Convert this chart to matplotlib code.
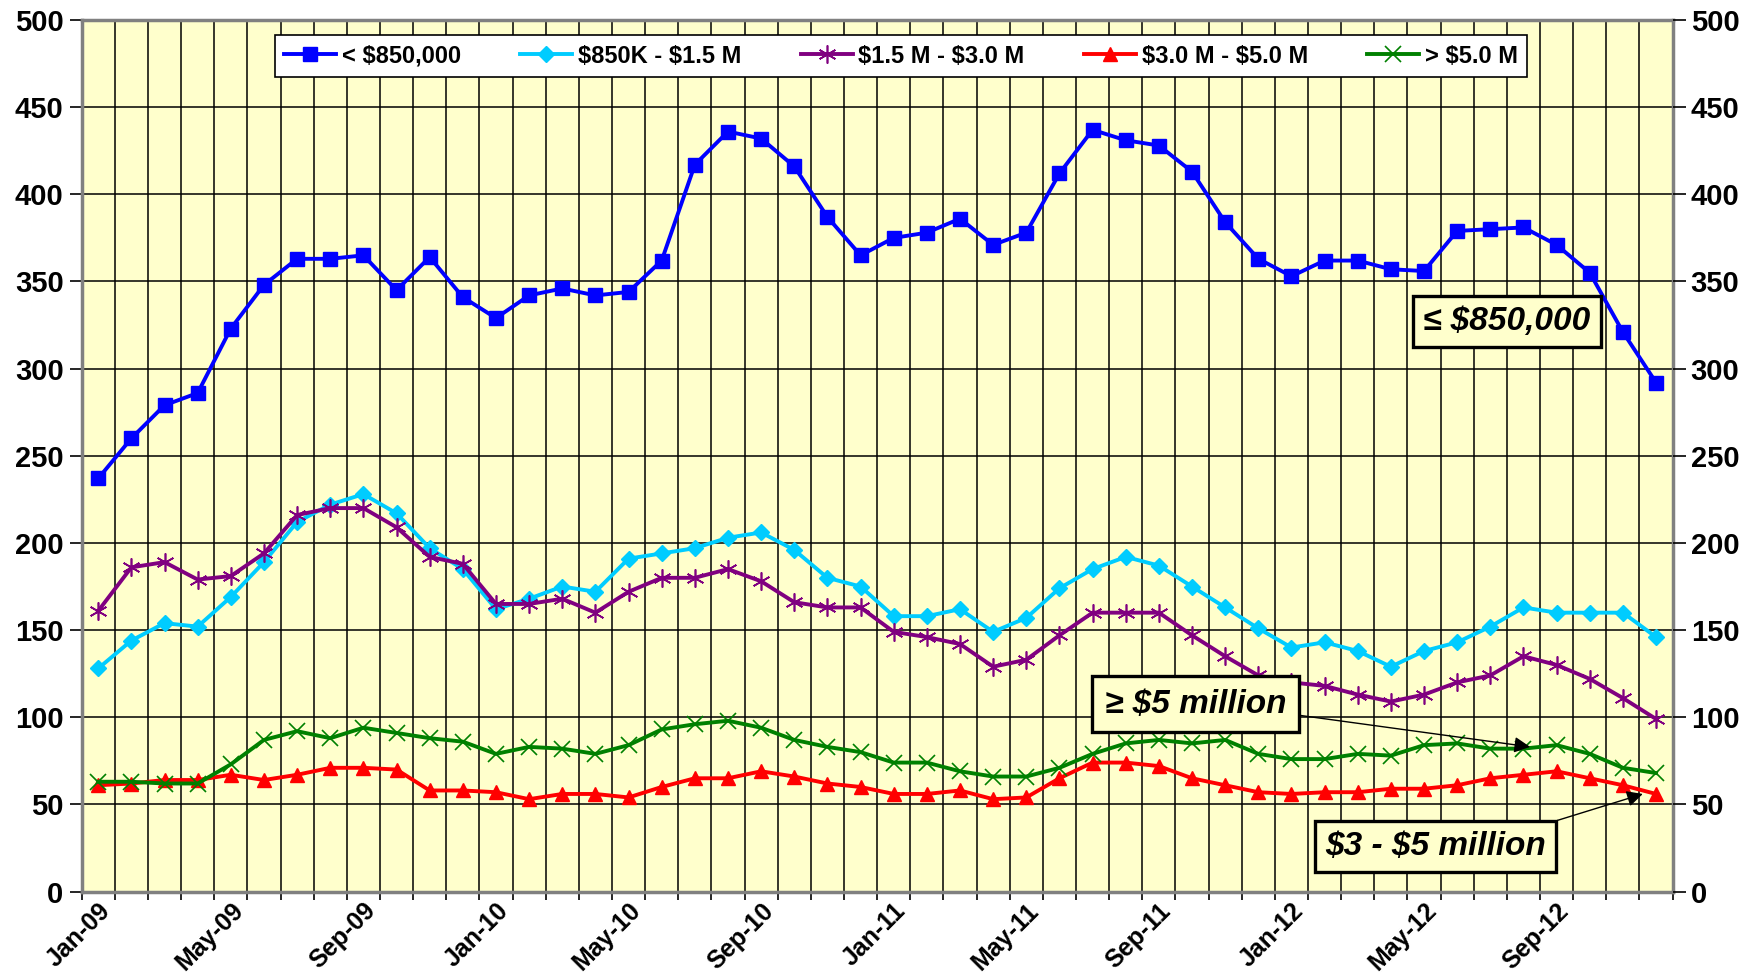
import matplotlib
matplotlib.use("Agg")
import matplotlib.pyplot as plt
import numpy as np

plt.rcParams['font.family'] = ['Liberation Sans', 'DejaVu Sans']
plt.rcParams['text.parse_math'] = False

months = ["Jan-09","Feb-09","Mar-09","Apr-09","May-09","Jun-09","Jul-09","Aug-09","Sep-09","Oct-09","Nov-09","Dec-09",
          "Jan-10","Feb-10","Mar-10","Apr-10","May-10","Jun-10","Jul-10","Aug-10","Sep-10","Oct-10","Nov-10","Dec-10",
          "Jan-11","Feb-11","Mar-11","Apr-11","May-11","Jun-11","Jul-11","Aug-11","Sep-11","Oct-11","Nov-11","Dec-11",
          "Jan-12","Feb-12","Mar-12","Apr-12","May-12","Jun-12","Jul-12","Aug-12","Sep-12","Oct-12","Nov-12","Dec-12"]

under_850k = [237, 260, 279, 286, 323, 348, 363, 363, 365, 345, 364, 341,
              329, 342, 346, 342, 344, 362, 417, 436, 432, 416, 387, 365,
              375, 378, 386, 371, 378, 412, 437, 431, 428, 413, 384, 363,
              353, 362, 362, 357, 356, 379, 380, 381, 371, 355, 321, 292]
k850_1_5m = [128, 144, 154, 152, 169, 189, 212, 222, 228, 217, 197, 185,
             162, 168, 175, 172, 191, 194, 197, 203, 206, 196, 180, 175,
             158, 158, 162, 149, 157, 174, 185, 192, 187, 175, 163, 151,
             140, 143, 138, 129, 138, 143, 152, 163, 160, 160, 160, 146]
m1_5_3_0 = [161, 186, 189, 179, 181, 194, 216, 220, 220, 209, 192, 188,
            165, 165, 168, 160, 172, 180, 180, 185, 178, 166, 163, 163,
            149, 146, 142, 129, 133, 147, 160, 160, 160, 147, 135, 124,
            120, 118, 113, 109, 113, 120, 124, 135, 130, 122, 111, 99]
m3_0_5_0 = [61, 62, 64, 64, 67, 64, 67, 71, 71, 70, 58, 58,
            57, 53, 56, 56, 54, 60, 65, 65, 69, 66, 62, 60,
            56, 56, 58, 53, 54, 65, 74, 74, 72, 65, 61, 57,
            56, 57, 57, 59, 59, 61, 65, 67, 69, 65, 61, 56]
over_5m = [63, 63, 62, 62, 73, 87, 92, 88, 94, 91, 88, 86,
           79, 83, 82, 79, 84, 93, 96, 98, 94, 87, 83, 80,
           74, 74, 69, 66, 66, 71, 79, 85, 87, 85, 87, 79,
           76, 76, 79, 78, 84, 85, 82, 82, 84, 79, 71, 68]

series_labels = ["< $850,000", "$850K - $1.5 M", "$1.5 M - $3.0 M", "$3.0 M - $5.0 M", "> $5.0 M"]

fig = plt.figure(figsize=(17.52, 9.76), dpi=100)
ax = fig.add_axes([0.0466, 0.0865, 0.9081, 0.893])
ax.set_facecolor('#FFFFCC')

x = np.arange(len(months))
lw = 2.8
ax.plot(x, under_850k, color='#0000FF', lw=lw, marker='s', ms=10.5, label=series_labels[0], zorder=5)
ax.plot(x, k850_1_5m, color='#00CCFF', lw=lw, marker='D', ms=8.5, label=series_labels[1], zorder=5)
ax.plot(x, m1_5_3_0, color='#800080', lw=lw, marker=(6, 2, 0), ms=13, mew=1.2, label=series_labels[2], zorder=5)
ax.plot(x, m3_0_5_0, color='#FF0000', lw=lw, marker='^', ms=10.5, label=series_labels[3], zorder=5)
ax.plot(x, over_5m, color='#008000', lw=lw, marker='x', ms=12, mew=1.2, label=series_labels[4], zorder=5)

ax.set_xlim(-0.5, len(months) - 0.5)
ax.set_ylim(0, 500)
ax.set_yticks(np.arange(0, 501, 50))
ax.set_xticks(x[::4])
ax.set_xticklabels(months[::4], rotation=45, ha='right', rotation_mode='anchor',
                   fontsize=18, fontweight='bold')
ax.set_xticks(np.arange(-0.5, len(months), 1), minor=True)
ax.tick_params(axis='x', which='major', length=0, pad=5)
ax.tick_params(axis='x', which='minor', length=6, width=1.2, color='black', direction='out')
ax.tick_params(axis='y', which='major', length=9, width=1.2, direction='out', labelsize=21, pad=4)
for t in ax.get_yticklabels():
    t.set_fontweight('bold')

ax.grid(True, which='minor', axis='x', color='black', lw=1.1, zorder=0)
ax.grid(True, which='major', axis='y', color='black', lw=1.1, zorder=0)
ax.set_axisbelow(True)
for s in ax.spines.values():
    s.set_color('#808080')
    s.set_linewidth(2.5)

ax2 = ax.twinx()
ax2.set_ylim(0, 500)
ax2.set_yticks(np.arange(0, 501, 50))
ax2.tick_params(axis='y', which='major', length=9, width=1.2, direction='out', labelsize=21, pad=4)
for t in ax2.get_yticklabels():
    t.set_fontweight('bold')
for s in ax2.spines.values():
    s.set_visible(False)

leg = ax.legend(loc='upper center', bbox_to_anchor=(0.515, 0.996), ncol=5, frameon=True, fancybox=False,
                edgecolor='black', facecolor='white', framealpha=1,
                prop={'weight': 'bold', 'size': 17}, handlelength=2.2, handletextpad=0.25,
                columnspacing=2.5, borderpad=0.4)
leg.get_frame().set_linewidth(1.2)
leg.set_zorder(10)

box = dict(boxstyle='square,pad=0.3', facecolor='#FFFFCC', edgecolor='black', lw=2.4)
box2 = dict(boxstyle='square,pad=0.38', facecolor='#FFFFCC', edgecolor='black', lw=2.4)
ax.text(42.5, 327, "≤ $850,000", fontsize=24, fontweight='bold', style='italic',
        ha='center', va='center', bbox=box, zorder=8)
ax.annotate("≥ $5 million", xy=(43.2, 83), xytext=(33.1, 107.5), fontsize=24, fontweight='bold',
            style='italic', ha='center', va='center', bbox=box2, zorder=8,
            arrowprops=dict(arrowstyle='-|>', color='black', lw=1, shrinkA=0, shrinkB=0,
                            relpos=(1.0, 0.2)))
ax.annotate("$3 - $5 million", xy=(46.6, 56), xytext=(40.35, 26), fontsize=24, fontweight='bold',
            style='italic', ha='center', va='center', bbox=box, zorder=8,
            arrowprops=dict(arrowstyle='-|>', color='black', lw=1, shrinkA=0, shrinkB=0,
                            relpos=(0.9, 1.0)))

fig.savefig("out.png", dpi=100)
